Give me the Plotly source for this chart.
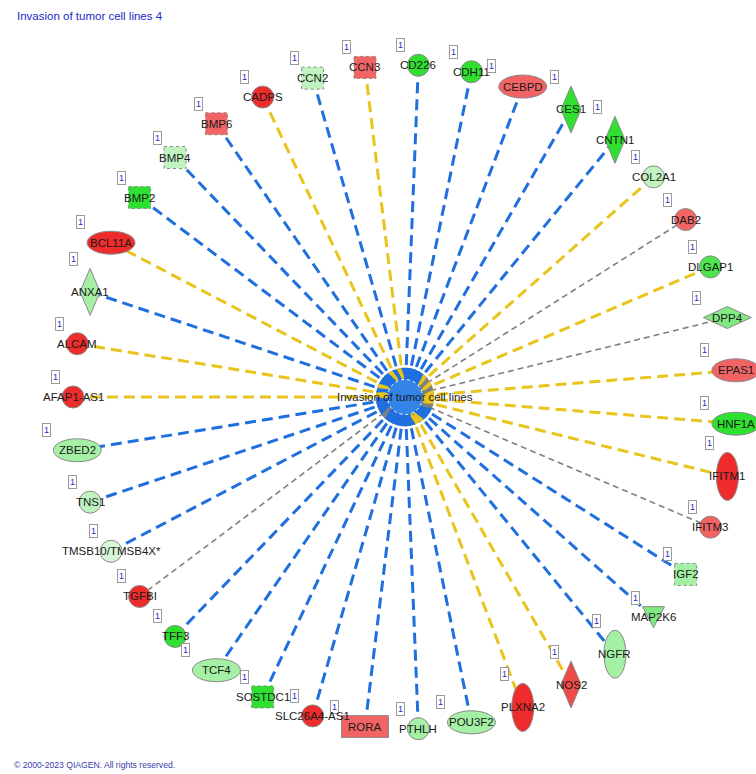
import math
import plotly.graph_objects as go

# ---------------- data ----------------
genes = ["AFAP1-AS1", "ALCAM", "ANXA1", "BCL11A", "BMP2", "BMP4", "BMP6", "CADPS",
         "CCN2", "CCN3", "CD226", "CDH11", "CEBPD", "CES1", "CNTN1", "COL2A1",
         "DAB2", "DLGAP1", "DPP4", "EPAS1", "HNF1A", "IFITM1", "IFITM3", "IGF2",
         "MAP2K6", "NGFR", "NOS2", "PLXNA2", "POU3F2", "PTHLH", "RORA",
         "SLC26A4-AS1", "SOSTDC1", "TCF4", "TFF3", "TGFBI", "TMSB10/TMSB4X*",
         "TNS1", "ZBED2"]

mol_types = ["other", "other", "enzyme", "transcription regulator", "growth factor",
             "growth factor", "growth factor", "other", "growth factor", "growth factor",
             "other", "other", "transcription regulator", "enzyme", "enzyme", "other",
             "other", "other", "peptidase", "transcription regulator",
             "transcription regulator", "transmembrane receptor", "other", "growth factor",
             "kinase", "transmembrane receptor", "enzyme", "transmembrane receptor",
             "transcription regulator", "other", "ligand-dependent nuclear receptor",
             "other", "growth factor", "transcription regulator", "other", "other",
             "other", "other", "transcription regulator"]

# expression level (positive = up/red, negative = down/green)
expr_levels = [3, 3, -2, 3, -4, -1.5, 2, 3,
               -1.5, 2, -4, -4, 2, -4, -4, -1.5,
               2, -3.5, -3, 2, -4, 3, 2, -2,
               -3, -2, 2.5, 3, -2, -2, 2,
               3, -4, -2, -4, 3, -1,
               -1.5, -2]

predictions = ["inconsistent", "inconsistent", "inhibition", "inconsistent", "inhibition",
               "inhibition", "inhibition", "inconsistent", "inhibition", "inconsistent",
               "inhibition", "inhibition", "inhibition", "inhibition", "inhibition",
               "inconsistent", "unpredicted", "inconsistent", "unpredicted", "inconsistent",
               "inconsistent", "inconsistent", "unpredicted", "inhibition", "inhibition",
               "inhibition", "inconsistent", "inconsistent", "inhibition", "inhibition",
               "inhibition", "inhibition", "inhibition", "inhibition", "inhibition",
               "unpredicted", "inhibition", "inhibition", "inhibition"]

ref_counts = [1] * 39

center_label = "Invasion of tumor cell lines"
title_text = "Invasion of tumor cell lines 4"
footer_text = "© 2000-2023 QIAGEN. All rights reserved."

# ---------------- styles ----------------
W, H = 756, 774
CX, CY, R = 405, 397, 332

level_colors = {3: "#ee2c2c", 2.5: "#ef4a4a", 2: "#f26464", -4: "#30e030",
                -3.5: "#4fe44f", -3: "#80ea80", -2: "#a4f0a4", -1.5: "#c0f3c0",
                -1: "#d8f6d8"}
edge_styles = {"inhibition": ("#1f6fde", 3, "11px,6px"),
               "inconsistent": ("#e8c41c", 3, "11px,6px"),
               "unpredicted": ("#7f7f7f", 1.6, "6px,4px")}
shape_specs = {  # kind, width, height, dashed border
    "other": ("circle", 22, 22, False),
    "transcription regulator": ("circle", 48, 23, False),
    "transmembrane receptor": ("circle", 22, 48, False),
    "growth factor": ("rect", 22, 22, True),
    "ligand-dependent nuclear receptor": ("rect", 47, 22, False),
    "enzyme": ("diamond", 20, 47, False),
    "peptidase": ("diamond", 48, 22, False),
    "kinase": ("tri", 22, 21, False),
}
FONT = "Arial, Liberation Sans, sans-serif"

N = len(genes)
angles = [math.pi - i * 2 * math.pi / N for i in range(N)]
xs = [CX + R * math.cos(a) for a in angles]
ys = [CY - R * math.sin(a) for a in angles]

fig = go.Figure()

# edges
R_END = 26
for pred, (col, lw, dash) in edge_styles.items():
    ex, ey = [], []
    for i in range(N):
        if predictions[i] != pred:
            continue
        a = angles[i]
        ex += [xs[i], CX + R_END * math.cos(a), None]
        ey += [ys[i], CY - R_END * math.sin(a), None]
    fig.add_trace(go.Scatter(x=ex, y=ey, mode="lines", hoverinfo="skip",
                             line=dict(color=col, width=lw, dash=dash),
                             showlegend=False))

shapes = []
annotations = []

# nodes
for i in range(N):
    kind, w, h, dashed = shape_specs[mol_types[i]]
    x, y = xs[i], ys[i]
    fill = level_colors[expr_levels[i]]
    line = dict(color="#8a8a8a", width=1, dash="dot" if dashed else "solid")
    if kind == "circle":
        shapes.append(dict(type="circle", x0=x - w / 2, x1=x + w / 2, y0=y - h / 2,
                           y1=y + h / 2, fillcolor=fill, line=line))
    elif kind == "rect":
        shapes.append(dict(type="rect", x0=x - w / 2, x1=x + w / 2, y0=y - h / 2,
                           y1=y + h / 2, fillcolor=fill, line=line))
    elif kind == "diamond":
        p = f"M {x},{y - h / 2} L {x + w / 2},{y} L {x},{y + h / 2} L {x - w / 2},{y} Z"
        shapes.append(dict(type="path", path=p, fillcolor=fill, line=line))
    else:
        p = f"M {x - w / 2},{y - h / 2} L {x + w / 2},{y - h / 2} L {x},{y + h / 2} Z"
        shapes.append(dict(type="path", path=p, fillcolor=fill, line=line))
    annotations.append(dict(x=x, y=y, text=genes[i], showarrow=False,
                            font=dict(family=FONT, size=11.5, color="#1a1a1a")))
    annotations.append(dict(x=x, y=y, text=str(ref_counts[i]), showarrow=False,
                            xshift=-(w / 2 + 7), yshift=h / 2 + 9,
                            width=7, height=12, borderpad=0,
                            bordercolor="#9a9a9a", borderwidth=1, bgcolor="white",
                            font=dict(family=FONT, size=9, color="#2a2ad0")))

# central node: ring of arrowheads
shapes.append(dict(type="circle", x0=CX - 26, x1=CX + 26, y0=CY - 26, y1=CY + 26,
                   fillcolor="#1f6fde", line=dict(width=0)))
for i in range(N):
    a = angles[i]
    col = edge_styles[predictions[i]][0]
    ux, uy = math.cos(a), -math.sin(a)
    px, py = -uy, ux
    tip = (CX + 16 * ux, CY + 16 * uy)
    b = 29
    hw = 5
    b1 = (CX + b * ux + hw * px, CY + b * uy + hw * py)
    b2 = (CX + b * ux - hw * px, CY + b * uy - hw * py)
    p = f"M {tip[0]},{tip[1]} L {b1[0]},{b1[1]} L {b2[0]},{b2[1]} Z"
    shapes.append(dict(type="path", path=p, fillcolor=col, line=dict(width=0)))
shapes.append(dict(type="circle", x0=CX - 17.5, x1=CX + 17.5, y0=CY - 17.5, y1=CY + 17.5,
                   fillcolor="#3483e6", line=dict(color="white", width=1, dash="dot")))
annotations.append(dict(x=CX, y=CY, text=center_label, showarrow=False,
                        font=dict(family=FONT, size=11.5, color="#1a1a1a")))

# title & footer
annotations.append(dict(x=15, y=16, text=title_text, showarrow=False, xanchor="left",
                        font=dict(family=FONT, size=11.5, color="#2626c8")))
annotations.append(dict(x=12, y=765, text=footer_text, showarrow=False, xanchor="left",
                        font=dict(family=FONT, size=8.6, color="#3a3aa8")))

fig.update_layout(
    width=W, height=H, margin=dict(l=0, r=0, t=0, b=0),
    paper_bgcolor="white", plot_bgcolor="white",
    xaxis=dict(range=[0, W], visible=False, fixedrange=True),
    yaxis=dict(range=[H, 0], visible=False, fixedrange=True),
    shapes=shapes, annotations=annotations, showlegend=False,
)

fig.write_html("out.html", config={"displayModeBar": False},
               post_script="document.body.style.margin='0';document.body.style.overflow='hidden';")
